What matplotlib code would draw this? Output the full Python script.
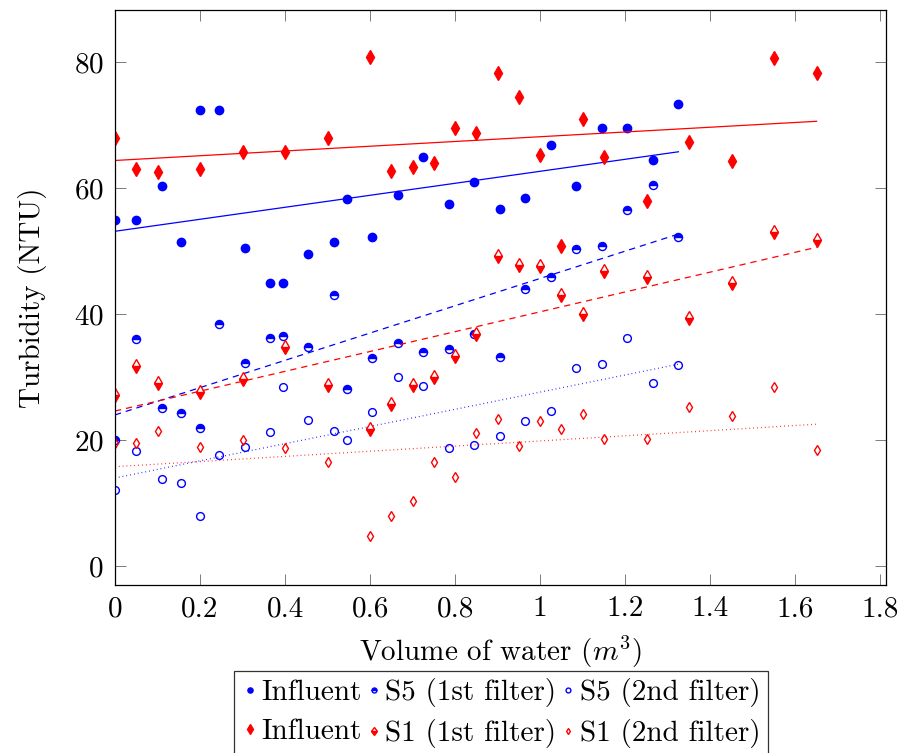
import numpy as np
import matplotlib
matplotlib.use("Agg")
import matplotlib.pyplot as plt
from matplotlib.ticker import FuncFormatter

plt.rcParams['font.family'] = 'cmr10'
plt.rcParams['mathtext.fontset'] = 'cm'
plt.rcParams['axes.formatter.use_mathtext'] = True

# S5 sampling volumes (m3) and turbidities (NTU)
x_s5 = [0.0, 0.05, 0.11, 0.155, 0.2, 0.245, 0.305, 0.365, 0.395, 0.455, 0.515, 0.545,
        0.605, 0.665, 0.725, 0.785, 0.845, 0.905, 0.965, 1.025, 1.085, 1.145, 1.205,
        1.265, 1.325]
s5_influent = [55.0, 55.0, 60.3, 51.5, 72.5, 72.5, 50.5, 45.0, 45.0, 49.6, 51.5, 58.3,
               52.3, 58.9, 65.0, 57.5, 61.0, 56.7, 58.5, 66.8, 60.3, 69.5, 69.5, 64.5, 73.3]
s5_first = [20.0, 36.1, 25.1, 24.3, 22.0, 38.4, 32.3, 36.2, 36.5, 34.8, 43.0, 28.1,
            33.1, 35.5, 34.0, 34.4, 36.9, 33.2, 44.0, 45.9, 50.4, 50.9, 56.6, 60.5, 52.3]
s5_second = [12.1, 18.3, 13.8, 13.2, 8.0, 17.6, 18.9, 21.3, 28.4, 23.2, 21.5, 20.1,
             24.4, 30.0, 28.6, 18.8, 19.2, 20.6, 23.0, 24.6, 31.4, 32.1, 36.3, 29.0, 32.0]

# S1 sampling volumes (m3) and turbidities (NTU)
x_s1 = [0.0, 0.05, 0.1, 0.2, 0.3, 0.4, 0.5, 0.6, 0.65, 0.7, 0.75, 0.8, 0.85, 0.9,
        0.95, 1.0, 1.05, 1.1, 1.15, 1.25, 1.35, 1.45, 1.55, 1.65]
s1_influent = [68.0, 63.0, 62.6, 63.0, 65.7, 65.7, 68.0, 80.8, 62.7, 63.4, 64.0, 69.5,
               68.7, 78.3, 74.5, 65.3, 50.9, 71.0, 65.0, 57.9, 67.3, 64.3, 80.7, 78.3]
s1_first = [27.1, 31.8, 29.1, 27.7, 29.7, 34.8, 28.7, 21.8, 25.8, 28.7, 30.0, 33.4,
            36.8, 49.2, 47.8, 47.6, 43.0, 40.1, 46.9, 45.9, 39.4, 45.0, 53.0, 51.8]
s1_second = [19.5, 19.5, 21.5, 18.9, 20.0, 18.8, 16.6, 4.8, 8.0, 10.3, 16.6, 14.2,
             21.2, 23.3, 19.1, 23.0, 21.7, 24.2, 20.2, 20.2, 25.3, 23.9, 28.5, 18.5]

legend_labels = ["Influent", "S5 (1st filter)", "S5 (2nd filter)",
                 "Influent", "S1 (1st filter)", "S1 (2nd filter)"]

blue = (0, 0, 1)
red = (1, 0, 0)

fig = plt.figure(figsize=(9.04, 7.53), dpi=100)
ax = fig.add_axes([0.1272, 0.2231, 0.8528, 0.7636])

series = [
    (x_s5, s5_influent, blue, 'o', 'full', 6.0, '-'),
    (x_s5, s5_first, blue, 'o', 'top', 5.8, (0, (5, 4))),
    (x_s5, s5_second, blue, 'o', 'none', 5.6, (0, (0.6, 2.5))),
    (x_s1, s1_influent, red, 'd', 'full', 7.4, '-'),
    (x_s1, s1_first, red, 'd', 'bottom', 7.2, (0, (5, 4))),
    (x_s1, s1_second, red, 'd', 'none', 5.0, (0, (0.6, 2.5))),
]

handles = []
for (xs, ys, c, m, fs, ms, ls), lab in zip(series, legend_labels):
    xs = np.array(xs)
    ys = np.array(ys)
    h, = ax.plot(xs, ys, linestyle='none', marker=m, fillstyle=fs, markersize=ms,
                 color=c, markerfacecoloralt='white', markeredgewidth=1.0, label=lab)
    # linear regression trend line
    k, b = np.polyfit(xs, ys, 1)
    xl = np.array([xs.min(), xs.max()])
    ax.plot(xl, k * xl + b, color=c, linestyle=ls, linewidth=0.9)
    handles.append(h)

ax.set_xlim(0, 1.813)
ax.set_ylim(-3, 88.3)
ax.set_xticks(np.arange(0, 1.81, 0.2))
ax.set_yticks([0, 20, 40, 60, 80])
ax.xaxis.set_major_formatter(FuncFormatter(lambda v, p: "%g" % round(v, 1)))
ax.tick_params(direction='in', length=8, width=0.6, color='#666666',
               top=True, right=True, labelsize=21, pad=8)
for s in ax.spines.values():
    s.set_linewidth(0.9)

ax.set_xlabel("Volume of water ($m^3$)", fontsize=21, labelpad=8)
ax.set_ylabel("Turbidity (NTU)", fontsize=21, labelpad=19)

order = [0, 3, 1, 4, 2, 5]
leg = fig.legend([handles[i] for i in order], [legend_labels[i] for i in order],
                 ncol=3, loc='upper center', bbox_to_anchor=(0.554, 0.109),
                 fontsize=21, frameon=True, fancybox=False, edgecolor='black',
                 handlelength=0.6, handletextpad=0.1, columnspacing=0.1,
                 borderpad=0.25, labelspacing=0.42, markerscale=0.62, borderaxespad=0)
leg.get_frame().set_linewidth(0.9)

fig.savefig("out.png", dpi=100)
